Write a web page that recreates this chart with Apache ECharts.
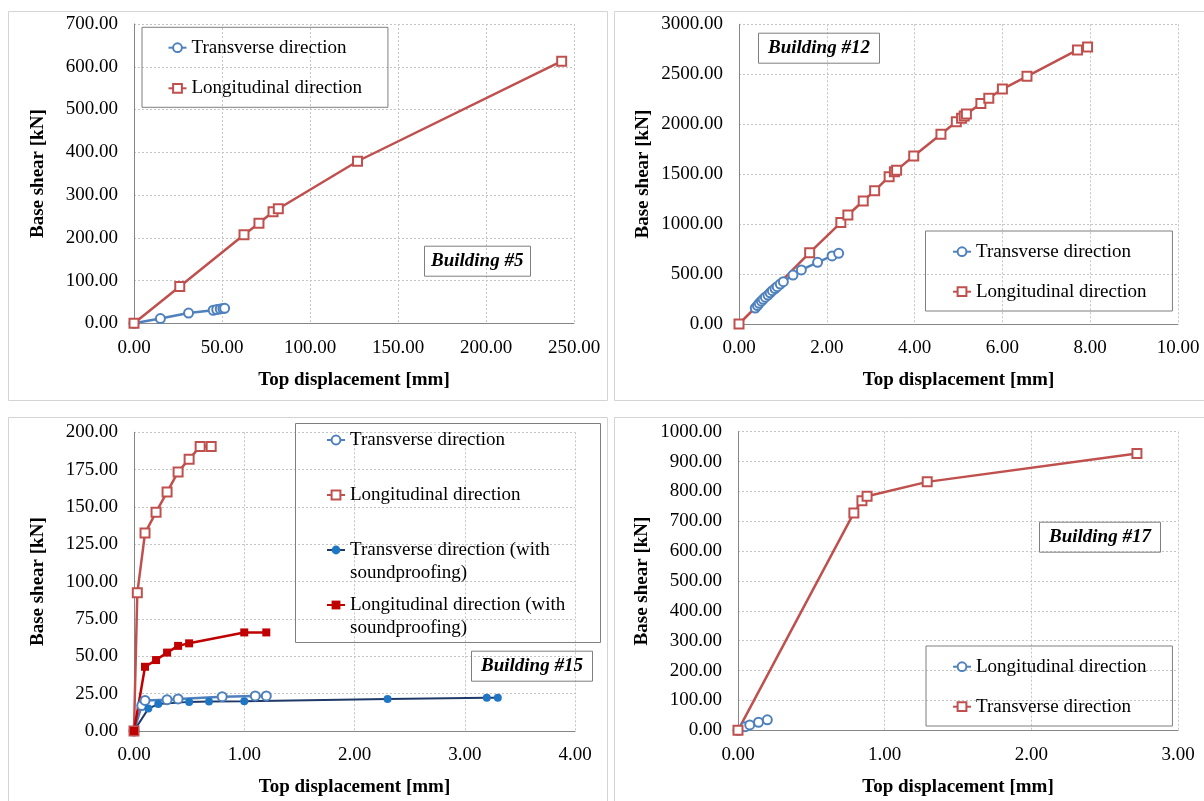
<!DOCTYPE html>
<html><head><meta charset="utf-8">
<script src="https://cdn.jsdelivr.net/npm/echarts@6/dist/echarts.min.js"></script>
<style>html,body{margin:0;padding:0;background:#fff}#c{width:1204px;height:801px}</style>
</head><body><div id="c"></div>
<script>
// ---------- tick labels ----------
const b5TicksX = [0, 50, 100, 150, 200, 250];
const b5TicksY = [0, 100, 200, 300, 400, 500, 600, 700];
const b12TicksX = [0, 2, 4, 6, 8, 10];
const b12TicksY = [0, 500, 1000, 1500, 2000, 2500, 3000];
const b15TicksX = [0, 1, 2, 3, 4];
const b15TicksY = [0, 25, 50, 75, 100, 125, 150, 175, 200];
const b17TicksX = [0, 1, 2, 3];
const b17TicksY = [0, 100, 200, 300, 400, 500, 600, 700, 800, 900, 1000];

// ---------- texts ----------
const xTitle = 'Top displacement [mm]';
const yTitle = 'Base shear [kN]';
const buildingLabels = ['Building #5', 'Building #12', 'Building #15', 'Building #17'];
const legendText = {
  b5_t: 'Transverse direction', b5_l: 'Longitudinal direction',
  b12_t: 'Transverse direction', b12_l: 'Longitudinal direction',
  b15_t: 'Transverse direction', b15_l: 'Longitudinal direction',
  b15_ts: 'Transverse direction (with\nsoundproofing)',
  b15_ls: 'Longitudinal direction (with\nsoundproofing)',
  b17_l: 'Longitudinal direction', b17_t: 'Transverse direction'
};

// ---------- Building #5 ----------
const b5TransX = [0, 15, 31, 45, 47, 49, 50.5, 51.5];
const b5TransY = [0, 11, 24, 30.5, 32, 33.5, 34.5, 35];
const b5LongX = [0, 26, 62.5, 71, 79, 82, 127, 243];
const b5LongY = [0, 86, 207, 234, 261, 268, 379, 613];

// ---------- Building #12 ----------
const b12TransX = [0.37, 0.42, 0.46, 0.51, 0.55, 0.60, 0.66, 0.71, 0.76, 0.82, 0.87, 0.94, 1.01, 1.23, 1.42, 1.79, 2.12, 2.27];
const b12TransY = [160, 185, 207, 228, 247, 268, 290, 312, 334, 355, 374, 400, 424, 490, 541, 617, 681, 707];
const b12LongX = [0, 1.61, 2.32, 2.48, 2.83, 3.09, 3.42, 3.54, 3.59, 3.98, 4.60, 4.95, 5.07, 5.13, 5.18, 5.51, 5.69, 6.00, 6.56, 7.71, 7.94];
const b12LongY = [0, 714, 1015, 1091, 1231, 1335, 1475, 1525, 1540, 1682, 1899, 2025, 2059, 2082, 2102, 2206, 2259, 2352, 2479, 2743, 2773];

// ---------- Building #15 ----------
const b15TransX = [0, 0.07, 0.1, 0.3, 0.4, 0.8, 1.1, 1.2];
const b15TransY = [0, 17, 20.5, 21, 21.5, 23, 23.5, 23.5];
const b15LongX = [0, 0.03, 0.1, 0.2, 0.3, 0.4, 0.5, 0.6, 0.7];
const b15LongY = [0, 92.5, 132.5, 146.5, 160, 173.5, 182, 190.5, 190.5];
const b15TransSpX = [0, 0.13, 0.22, 0.5, 0.68, 1.0, 2.3, 3.2, 3.3];
const b15TransSpY = [0, 15, 18, 19.5, 19.8, 20, 21.5, 22.3, 22.3];
const b15LongSpX = [0, 0.1, 0.2, 0.3, 0.4, 0.5, 1.0, 1.2];
const b15LongSpY = [0, 43, 47.5, 52.5, 57, 58.7, 66, 66];

// ---------- Building #17 ----------
const b17LongX = [0, 0.05, 0.08, 0.14, 0.2];
const b17LongY = [0, 12, 18, 27, 35];
const b17TransX = [0, 0.79, 0.845, 0.88, 1.29, 2.72];
const b17TransY = [0, 728, 769, 784, 832, 927];

// ---------- build option ----------
const FONT = "'Liberation Serif','Times New Roman',serif";
const RED = '#C0504D', BLUE = '#4F81BD';
const zip = (xs, ys) => xs.map((x, i) => [x, ys[i]]);

const grids = [
  {left: 134, top: 24, width: 440, height: 299.3},
  {left: 739, top: 24.3, width: 439, height: 299.7},
  {left: 134, top: 432.3, width: 441, height: 298.7},
  {left: 738, top: 431.7, width: 440, height: 298.6}
];
const ticksX = [b5TicksX, b12TicksX, b15TicksX, b17TicksX];
const ticksY = [b5TicksY, b12TicksY, b15TicksY, b17TicksY];

const axisLineStyle = {show: true, onZero: false, lineStyle: {color: '#868686', width: 1}};
const splitLineStyle = {show: true, lineStyle: {type: [2, 2], color: '#c4c4c4', width: 1}};
const titleTextStyle = {fontFamily: FONT, fontSize: 19, fontWeight: 'bold', color: '#000'};

const xAxes = ticksX.map((t, i) => ({
  gridIndex: i, type: 'value', min: t[0], max: t[t.length - 1], interval: t[1] - t[0],
  name: xTitle, nameLocation: 'middle', nameGap: 47, nameTextStyle: titleTextStyle,
  axisLine: axisLineStyle, axisTick: {show: false}, splitLine: splitLineStyle,
  axisLabel: {margin: 15, fontFamily: FONT, fontSize: 19, color: '#000', formatter: v => v.toFixed(2)}
}));
const yAxes = ticksY.map((t, i) => ({
  gridIndex: i, type: 'value', min: t[0], max: t[t.length - 1], interval: t[1] - t[0],
  name: yTitle, nameLocation: 'middle', nameGap: 86, nameTextStyle: titleTextStyle,
  axisLine: axisLineStyle, axisTick: {show: false}, splitLine: splitLineStyle,
  axisLabel: {margin: 16, fontFamily: FONT, fontSize: 19, color: '#000', formatter: v => v.toFixed(2)}
}));

function ser(name, idx, xs, ys, kind) {
  const s = {name, type: 'line', xAxisIndex: idx, yAxisIndex: idx, data: zip(xs, ys),
    symbolSize: 9, animation: false, lineStyle: {width: 2.5}};
  if (kind === 'rc') { s.symbol = 'emptyCircle'; s.itemStyle = {color: BLUE, borderWidth: 2}; s.lineStyle.color = BLUE; }
  if (kind === 'rs') { s.symbol = 'emptyRect'; s.itemStyle = {color: RED, borderWidth: 2}; s.lineStyle.color = RED; }
  if (kind === 'fc') { s.symbol = 'circle'; s.symbolSize = 8; s.itemStyle = {color: '#1F77C4'}; s.lineStyle = {width: 2, color: '#1F3A68'}; }
  if (kind === 'fs') { s.symbol = 'rect'; s.symbolSize = 8; s.itemStyle = {color: '#C00000'}; s.lineStyle = {width: 2.5, color: '#C00000'}; }
  return s;
}

const series = [
  ser('b5_t', 0, b5TransX, b5TransY, 'rc'),
  ser('b5_l', 0, b5LongX, b5LongY, 'rs'),
  ser('b12_t', 1, b12TransX, b12TransY, 'rc'),
  ser('b12_l', 1, b12LongX, b12LongY, 'rs'),
  ser('b15_t', 2, b15TransX, b15TransY, 'rc'),
  ser('b15_l', 2, b15LongX, b15LongY, 'rs'),
  ser('b15_ts', 2, b15TransSpX, b15TransSpY, 'fc'),
  ser('b15_ls', 2, b15LongSpX, b15LongSpY, 'fs'),
  ser('b17_l', 3, b17LongX, b17LongY, 'rc'),
  ser('b17_t', 3, b17TransX, b17TransY, 'rs')
];

const legTxt = {fontFamily: FONT, fontSize: 19, color: '#000', lineHeight: 22};
const legBase = {orient: 'vertical', itemWidth: 18, itemHeight: 11, selectedMode: false,
  formatter: n => legendText[n], textStyle: legTxt};
// Building #15 legend: pad each entry to three text lines so that the first
// written line sits on the icon, like the original
const pad3 = n => {
  const t = legendText[n];
  return t.indexOf('\n') >= 0 ? '\n' + t : '\n' + t + '\n';
};
const legends = [
  Object.assign({}, legBase, {left: 142, top: 27.3, padding: [9.4, 26, 8, 25.5], itemGap: 18.6,
    borderColor: '#7f7f7f', borderWidth: 1, data: ['b5_t', 'b5_l']}),
  Object.assign({}, legBase, {left: 925.5, top: 231, padding: [9.7, 26, 8.3, 26.5], itemGap: 18,
    borderColor: '#7f7f7f', borderWidth: 1, data: ['b12_t', 'b12_l']}),
  Object.assign({}, legBase, {left: 926, top: 646, padding: [9.7, 26, 8.3, 26], itemGap: 18,
    borderColor: '#7f7f7f', borderWidth: 1, data: ['b17_l', 'b17_t']}),
  Object.assign({}, legBase, {left: 326, top: 440 - 34.05, padding: 0, itemGap: -13.1,
    formatter: pad3, textStyle: Object.assign({}, legTxt, {lineHeight: 22.7}),
    data: ['b15_t', 'b15_l', 'b15_ts', 'b15_ls']})
];

const labelBoxes = [[424, 245.7, 7], [758, 32.7, 10], [471, 650.7, 10], [1039, 521.7, 10]];
const titles = buildingLabels.map((t, i) => ({
  text: t, left: labelBoxes[i][0], top: labelBoxes[i][1], padding: [4, labelBoxes[i][2]],
  borderColor: '#7f7f7f', borderWidth: 1,
  textStyle: {fontFamily: FONT, fontSize: 19, fontWeight: 'bold', fontStyle: 'italic', color: '#000', lineHeight: 23}
}));

const panelBorder = {fill: 'none', stroke: '#d4d4d4', lineWidth: 1};
const graphics = [
  {type: 'rect', shape: {x: 8.5, y: 11.5, width: 599, height: 389}, style: panelBorder, silent: true},
  {type: 'rect', shape: {x: 614.5, y: 11.5, width: 600, height: 389}, style: panelBorder, silent: true},
  {type: 'rect', shape: {x: 8.5, y: 417.5, width: 599, height: 400}, style: panelBorder, silent: true},
  {type: 'rect', shape: {x: 614.5, y: 417.5, width: 600, height: 400}, style: panelBorder, silent: true},
  {type: 'rect', shape: {x: 295.5, y: 423.5, width: 305, height: 219}, style: {fill: 'none', stroke: '#7f7f7f', lineWidth: 1}, silent: true, z: 5}
];

const chart = echarts.init(document.getElementById('c'), null, {renderer: 'canvas'});
chart.setOption({
  animation: false,
  backgroundColor: '#fff',
  grid: grids, xAxis: xAxes, yAxis: yAxes,
  series, legend: legends, title: titles, graphic: graphics
});
</script></body></html>
